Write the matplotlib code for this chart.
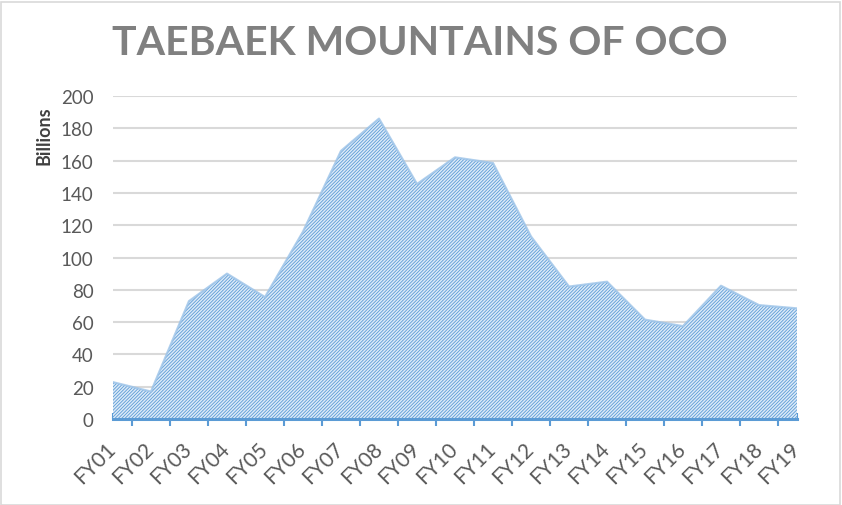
import matplotlib
matplotlib.use("Agg")
import matplotlib.pyplot as plt
from matplotlib.patches import Rectangle
import numpy as np

years = ["FY01", "FY02", "FY03", "FY04", "FY05", "FY06", "FY07", "FY08", "FY09", "FY10",
         "FY11", "FY12", "FY13", "FY14", "FY15", "FY16", "FY17", "FY18", "FY19"]
billions = [22.8, 17, 73, 90, 75.5, 116, 166, 186, 145.5, 162,
            158.5, 113, 82, 85, 61.5, 57.5, 82.5, 70.5, 68.5]
y_ticks = [0, 20, 40, 60, 80, 100, 120, 140, 160, 180, 200]

plt.rcParams["hatch.linewidth"] = 0.6
plt.rcParams["hatch.color"] = "#5b9bd5"

W, H = 842, 506
fig = plt.figure(figsize=(W / 100, H / 100), dpi=100)
ax = fig.add_axes([113 / W, 1 - 420 / H, (797 - 113) / W, (420 - 97) / H])

x = np.arange(len(years))
ax.fill_between(x, billions, 0, facecolor="#dceaf8", edgecolor="#5b9bd5",
                hatch="//////////", linewidth=0)
ax.plot(x, billions, color="#9cc3e8", lw=1.6, alpha=0.8, solid_joinstyle="round")

ax.set_xlim(0, len(years) - 1)
ax.set_ylim(0, 200)
ax.set_yticks(y_ticks)
ax.yaxis.grid(True, color="#d9d9d9", lw=1.5)
ax.set_axisbelow(True)
for s in ["top", "right", "left"]:
    ax.spines[s].set_visible(False)
ax.spines["bottom"].set_color("#5b9bd5")
ax.spines["bottom"].set_linewidth(2.2)
ax.spines["bottom"].set_zorder(5)

ax.tick_params(axis="y", length=0, labelsize=13.5, labelcolor="#595959", pad=14)
for lab in ax.get_yticklabels():
    lab.set_family("Lato")

# category boundaries get the outward ticks, data points get small inward ones
ax.set_xticks(x)
ax.set_xticklabels(years, rotation=45, ha="right", va="center",
                   rotation_mode="anchor", fontsize=15, color="#595959", family="Lato")
ax.tick_params(axis="x", which="major", direction="in", length=4, width=1.5,
               color="#5b9bd5", pad=19)
ax.set_xticks(x[:-1] + 0.5, minor=True)
ax.tick_params(axis="x", which="minor", direction="out", length=5, width=1.5,
               color="#5b9bd5")

fig.text(419.5 / W, 1 - 44 / H, "TAEBAEK MOUNTAINS OF OCO", ha="center", va="center",
         fontsize=29.5, fontweight="bold", color="#808080", family="Lato")
fig.text(44 / W, 1 - 136 / H, "Billions", rotation=90, ha="center", va="center",
         fontsize=13, fontweight="bold", color="#404040", family="Lato")

fig.patches.append(Rectangle((0.5 / W, 0.5 / H), 1 - 3 / W, 1 - 3 / H, transform=fig.transFigure,
                             fill=False, edgecolor="#d9d9d9", lw=1.2))

fig.savefig("out.png", dpi=100)
